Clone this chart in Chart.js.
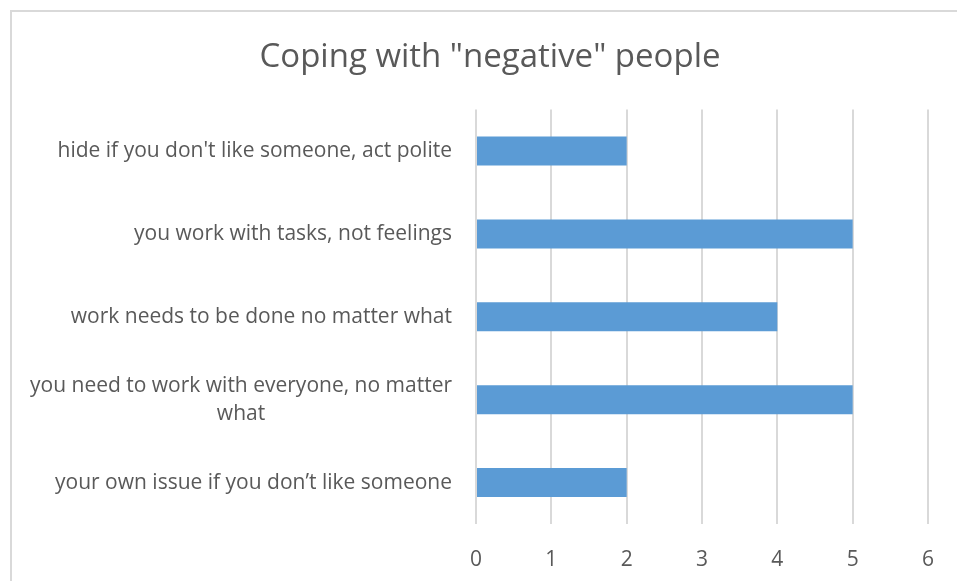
<!DOCTYPE html>
<html>
<head>
<meta charset="utf-8">
<script src="https://cdn.jsdelivr.net/npm/chart.js@4/dist/chart.umd.min.js"></script>
<style>
  html, body { margin: 0; padding: 0; background: #fff; }
  #wrap { position: relative; width: 957px; height: 581px; overflow: hidden; }
  #frame { position: absolute; left: 10px; top: 10px; width: 1000px; height: 1000px; border: 2px solid #d9d9d9; box-sizing: border-box; }
  canvas { position: absolute; left: 0; top: 0; }
</style>
</head>
<body>
<div id="wrap">
  <div id="frame"></div>
  <canvas id="chart" width="957" height="581"></canvas>
</div>
<script>
const categories = [
  "hide if you don't like someone, act polite",
  "you work with tasks, not feelings",
  "work needs to be done no matter what",
  ["you need to work with everyone, no matter", "what"],
  "your own issue if you don\u2019t like someone",
];
const values = [2, 5, 4, 5, 2];
const xMax = 6;

const textColor = "#595959";
const fontFamily = "'Open Sans', sans-serif";

// wrapped category labels are centred on their own lines, like in Excel
const centerWrapped = {
  id: "centerWrapped",
  beforeDraw(chart) {
    const scale = chart.scales.y;
    const c = chart.ctx;
    scale.getLabelItems().forEach((item) => {
      if (!Array.isArray(item.label) || item._centered) return;
      c.save();
      c.font = item.font.string;
      const w = Math.max(...item.label.map((l) => c.measureText(l).width));
      c.restore();
      item.options.textAlign = "center";
      item.options.translation[0] -= w / 2;
      item._centered = true;
    });
  },
};

// the title is centred on the whole chart frame, which goes past the right edge
const titleShift = {
  id: "titleShift",
  afterLayout(chart) {
    const dx = 490 - (chart.titleBlock.left + chart.titleBlock.right) / 2;
    chart.titleBlock.left += dx;
    chart.titleBlock.right += dx;
  },
};

const ctx = document.getElementById("chart").getContext("2d");

new Chart(ctx, {
  type: "bar",
  data: {
    labels: categories,
    datasets: [
      {
        label: "Series1",
        data: values,
        backgroundColor: "#5B9BD5",
        borderWidth: 0,
        categoryPercentage: 1,
        barPercentage: 0.35,
      },
    ],
  },
  options: {
    indexAxis: "y",
    responsive: false,
    animation: false,
    layout: {
      padding: { left: 0, right: 11, top: 0, bottom: 0 },
    },
    plugins: {
      legend: { display: false },
      tooltip: { enabled: false },
      title: {
        display: true,
        text: 'Coping with "negative" people',
        color: textColor,
        font: { family: fontFamily, size: 33, weight: "normal", lineHeight: 1.2 },
        padding: { top: 38, bottom: 32 },
      },
    },
    scales: {
      x: {
        min: 0,
        max: xMax,
        ticks: {
          stepSize: 1,
          color: textColor,
          padding: 23,
          font: { family: fontFamily, size: 21 },
        },
        grid: {
          color: "#d9d9d9",
          lineWidth: 2,
          drawTicks: false,
        },
        border: { display: false },
        afterFit: (scale) => {
          scale.height = 57;
        },
      },
      y: {
        ticks: {
          color: textColor,
          padding: 24,
          font: { family: fontFamily, size: 21, lineHeight: 1.33 },
        },
        grid: { display: false, drawTicks: false },
        border: { display: false },
        afterFit: (scale) => {
          scale.width = 476;
        },
      },
    },
  },
  plugins: [centerWrapped, titleShift],
});
</script>
</body>
</html>
